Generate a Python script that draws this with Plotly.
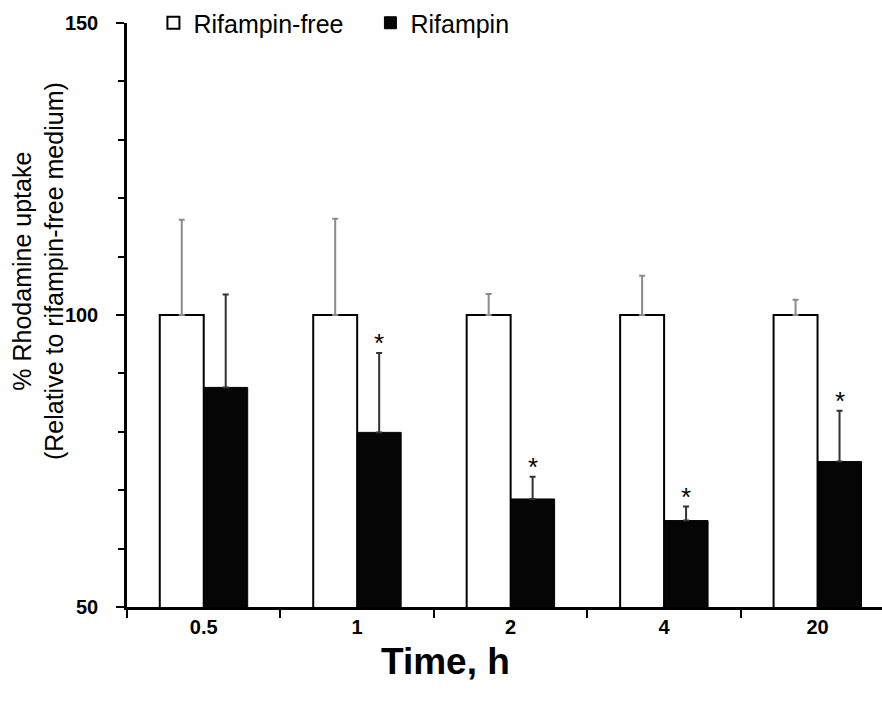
import plotly.graph_objects as go

categories = ["0.5", "1", "2", "4", "20"]
free_mean = [100, 100, 100, 100, 100]
free_err = [16.3, 16.5, 3.6, 6.7, 2.6]
rif_mean = [87.6, 79.9, 68.5, 64.8, 74.9]
rif_err = [15.9, 13.6, 3.8, 2.4, 8.7]
significant = [False, True, True, True, True]
y_ticks = [50, 100, 150]

FONT = "Liberation Sans, Arial, sans-serif"

fig = go.Figure()
fig.add_trace(go.Bar(
    x=categories, y=free_mean, name="Rifampin-free",
    marker=dict(color="white", line=dict(color="black", width=2)),
    error_y=dict(type="data", array=free_err, arrayminus=[0] * len(free_err),
                 symmetric=False, color="#8a8a8a", thickness=2, width=3),
))
fig.add_trace(go.Bar(
    x=categories, y=rif_mean, name="Rifampin",
    marker=dict(color="#050505", line=dict(color="black", width=1)),
    error_y=dict(type="data", array=rif_err, arrayminus=[0] * len(rif_err),
                 symmetric=False, color="#333333", thickness=2, width=3),
))

annotations = []
for i, (m, e, s) in enumerate(zip(rif_mean, rif_err, significant)):
    if s:
        annotations.append(dict(
            x=i, y=m + e, xref="x", yref="y", text="*", showarrow=False,
            xshift=22, yshift=10, yanchor="middle",
            font=dict(family=FONT, size=26, color="black"),
        ))

annotations.append(dict(
    x=-0.118, y=0.575, xref="paper", yref="paper", textangle=-90,
    text="% Rhodamine uptake<br>(Relative to rifampin-free medium)",
    showarrow=False, xanchor="center", yanchor="middle",
    font=dict(family=FONT, size=25, color="black"),
))
annotations.append(dict(
    x=0.4225, y=-0.0925, xref="paper", yref="paper", text="<b>Time, h</b>",
    showarrow=False, xanchor="center", yanchor="middle",
    font=dict(family=FONT, size=37, color="black"),
))

fig.update_layout(
    width=882, height=702,
    margin=dict(l=127, r=0, t=23, b=95),
    paper_bgcolor="white", plot_bgcolor="white",
    barmode="group", bargap=0.427, bargroupgap=0,
    showlegend=True,
    legend=dict(orientation="h", x=0.035, y=1.0, xanchor="left", yanchor="middle",
                font=dict(family=FONT, size=25, color="black"),
                bgcolor="rgba(0,0,0,0)", entrywidth=172, entrywidthmode="pixels",
                traceorder="normal"),
    annotations=annotations,
    xaxis=dict(type="category", range=[-0.5, 4.42], showline=True, linecolor="black",
               linewidth=2.5, ticks="outside", tickson="boundaries", ticklen=8,
               tickwidth=2, tickcolor="black", showgrid=False, zeroline=False,
               tickfont=dict(family=FONT, size=20, color="black", weight="bold")),
    yaxis=dict(range=[50, 150], tickvals=y_ticks, showline=True, linecolor="black",
               linewidth=2.5, ticks="outside", ticklen=8, tickwidth=2, tickcolor="black",
               ticklabelstandoff=14, showgrid=False, zeroline=False,
               minor=dict(dtick=10, tick0=50, ticks="outside", ticklen=6, tickwidth=2,
                          tickcolor="black", showgrid=False),
               tickfont=dict(family=FONT, size=20, color="black", weight="bold")),
)

fig.write_html("out.html")
